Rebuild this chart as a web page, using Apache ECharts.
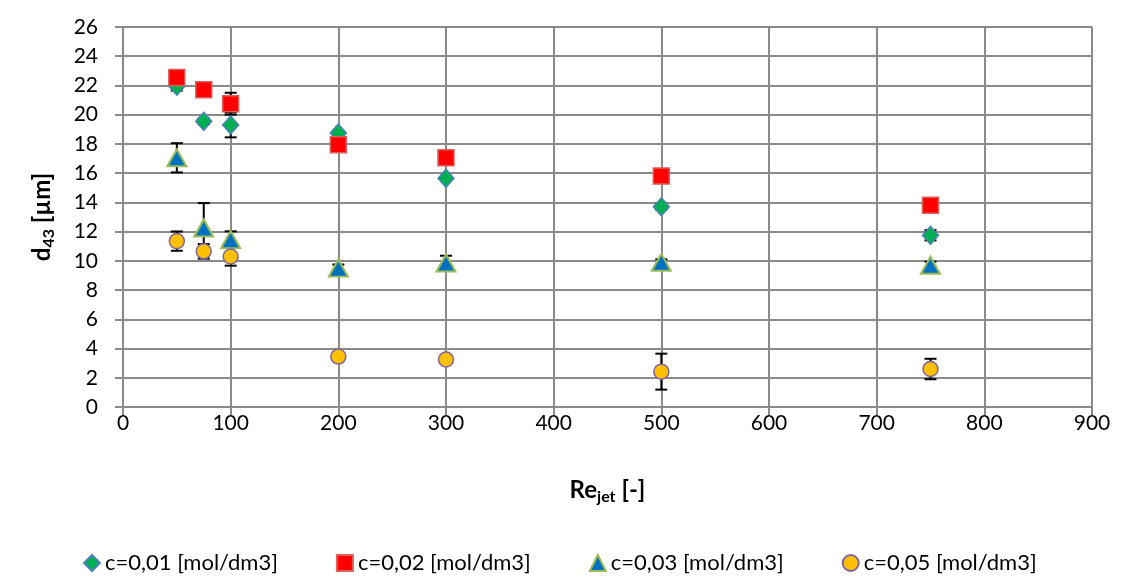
<!DOCTYPE html>
<html>
<head>
<meta charset="utf-8">
<script src="https://cdn.jsdelivr.net/npm/echarts@6/dist/echarts.min.js"></script>
<style>
  html, body { margin: 0; padding: 0; background: #fff; }
  #chart { width: 1128px; height: 576px; }
</style>
</head>
<body>
<div id="chart"></div>
<script>
// Re_jet values (x)
const reJet = [50, 75, 100, 200, 300, 500, 750];
// d43 values and error bar half-widths per concentration
const c001 = [21.95, 19.55, 19.3, 18.75, 15.65, 13.7, 11.75];
const c001Err = [0.3, 0.2, 0.85, 0.15, 0.15, 0.2, 0.35];
const c002 = [22.55, 21.7, 20.75, 17.95, 17.05, 15.8, 13.8];
const c002Err = [0.2, 0.2, 0.75, 0.2, 0.2, 0.2, 0.2];
const c003 = [17.05, 12.25, 11.45, 9.5, 9.85, 9.9, 9.7];
const c003Err = [1.0, 1.7, 0.57, 0.25, 0.5, 0.2, 0.25];
const c005 = [11.35, 10.65, 10.3, 3.45, 3.25, 2.42, 2.6];
const c005Err = [0.66, 0.5, 0.63, 0.15, 0.25, 1.23, 0.7];
const seriesNames = ['c=0,01 [mol/dm3]', 'c=0,02 [mol/dm3]', 'c=0,03 [mol/dm3]', 'c=0,05 [mol/dm3]'];

const font = 'Lato, "Open Sans", sans-serif';
const myChart = echarts.init(document.getElementById('chart'));

function pts(vals) {
    return reJet.map((x, i) => [x, vals[i]]);
}
function errData(vals, errs) {
    return reJet.map((x, i) => [x, vals[i] - errs[i], vals[i] + errs[i]]);
}
// 误差线 custom series
function errorSeries(vals, errs) {
    return {
        type: 'custom',
        silent: true,
        z: 1,
        renderItem: function (params, api) {
            let lo = api.coord([api.value(0), api.value(1)]);
            let hi = api.coord([api.value(0), api.value(2)]);
            let w = 6;
            let st = { stroke: '#000', lineWidth: 2 };
            return {
                type: 'group',
                children: [
                    { type: 'line', shape: { x1: lo[0], y1: lo[1], x2: hi[0], y2: hi[1] }, style: st },
                    { type: 'line', shape: { x1: lo[0] - w, y1: lo[1], x2: lo[0] + w, y2: lo[1] }, style: st },
                    { type: 'line', shape: { x1: hi[0] - w, y1: hi[1], x2: hi[0] + w, y2: hi[1] }, style: st }
                ]
            };
        },
        encode: { x: 0, y: [1, 2] },
        data: errData(vals, errs)
    };
}

const gridLine = { show: true, lineStyle: { color: '#8a8a8a', width: 2 } };
const nameRich = {
    b: { fontSize: 24, fontWeight: 'bold', fontFamily: font, color: '#000' },
    s: { fontSize: 16, fontWeight: 'bold', fontFamily: font, color: '#000', padding: [14, 0, 0, 0] }
};

let options = {
    animation: false,
    grid: { left: 123, right: 36, top: 27, bottom: 169 },
    xAxis: {
        type: 'value',
        min: 0,
        max: 900,
        interval: 100,
        axisLine: { show: true, onZero: false, lineStyle: { color: '#8a8a8a', width: 2 } },
        axisTick: { show: true, length: 8, lineStyle: { color: '#8a8a8a', width: 2 } },
        splitLine: gridLine,
        axisLabel: { color: '#000', fontSize: 21, fontFamily: font, margin: 6 },
        name: '{b|Re}{s|jet}{b| [-]}',
        nameLocation: 'middle',
        nameGap: 68,
        nameTextStyle: { fontWeight: 'bold', fontFamily: font, rich: nameRich }
    },
    yAxis: {
        type: 'value',
        min: 0,
        max: 26,
        interval: 2,
        axisLine: { show: true, lineStyle: { color: '#8a8a8a', width: 2 } },
        axisTick: { show: true, length: 8, lineStyle: { color: '#8a8a8a', width: 2 } },
        splitLine: gridLine,
        axisLabel: { color: '#000', fontSize: 21, fontFamily: font, margin: 25 },
        name: '{b|d}{s|43}{b| [µm]}',
        nameLocation: 'middle',
        nameRotate: 90,
        nameGap: 66,
        nameTextStyle: { fontWeight: 'bold', fontFamily: font, rich: nameRich }
    },
    legend: {
        top: 547,
        left: 78,
        itemGap: 58,
        itemWidth: 16,
        itemHeight: 16,
        textStyle: { fontSize: 22, fontFamily: font, color: '#000' },
        data: seriesNames
    },
    series: [
        errorSeries(c001, c001Err),
        errorSeries(c002, c002Err),
        errorSeries(c003, c003Err),
        errorSeries(c005, c005Err),
        {
            name: seriesNames[0], type: 'scatter', z: 3, symbol: 'diamond', symbolSize: [16, 18],
            itemStyle: { color: '#00B050', borderColor: '#4F81BD', borderWidth: 1.5, opacity: 1 },
            data: pts(c001)
        },
        {
            name: seriesNames[1], type: 'scatter', z: 3, symbol: 'rect', symbolSize: 16,
            itemStyle: { color: '#FF0000', borderColor: '#D9605A', borderWidth: 1.5, opacity: 1 },
            data: pts(c002)
        },
        {
            name: seriesNames[2], type: 'scatter', z: 3, symbol: 'triangle', symbolSize: [19, 17],
            itemStyle: { color: '#0070C0', borderColor: '#9BBB59', borderWidth: 2, opacity: 1 },
            data: pts(c003)
        },
        {
            name: seriesNames[3], type: 'scatter', z: 3, symbol: 'circle', symbolSize: 15,
            itemStyle: { color: '#FFC000', borderColor: '#8064A2', borderWidth: 1.5, opacity: 1 },
            data: pts(c005)
        }
    ]
};
myChart.setOption(options);
window.addEventListener('resize', () => { myChart.resize(); });
</script>
</body>
</html>
